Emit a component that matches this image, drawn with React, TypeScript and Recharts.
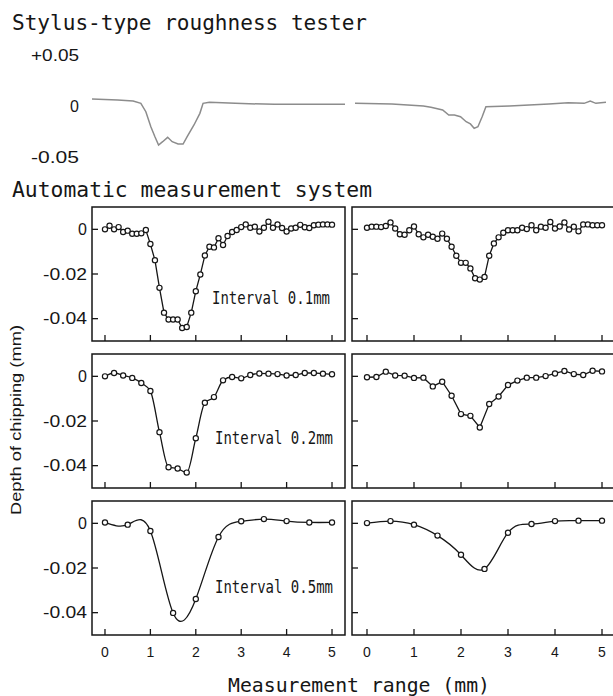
import React from 'react';
import { LineChart, Line, XAxis, YAxis, ReferenceArea } from 'recharts';

// stylus profile (x in mm, depth in mm)
const stylusLeftX = [-0.286, 0.28, 0.62, 0.79, 0.9, 1.01, 1.1, 1.18, 1.27, 1.38, 1.48, 1.61, 1.72, 1.81, 1.96, 2.09, 2.16, 2.3, 2.87, 3.73, 4.59, 5.286];
const stylusLeftY = [0.0069, 0.0059, 0.0049, 0.0026, -0.0056, -0.0203, -0.0301, -0.0382, -0.035, -0.0307, -0.035, -0.0373, -0.0373, -0.0301, -0.0186, -0.0072, 0.0026, 0.0036, 0.0026, 0.0016, 0.0016, 0.0016];
const stylusRightX = [-0.255, 0.53, 1.2, 1.36, 1.61, 1.74, 1.86, 1.99, 2.11, 2.2, 2.28, 2.36, 2.45, 2.53, 3.03, 3.87, 4.28, 4.62, 4.75, 4.87, 5.085];
const stylusRightY = [0.0026, 0.002, 0, -0.0013, -0.0039, -0.0088, -0.0088, -0.0105, -0.0154, -0.0176, -0.0219, -0.0203, -0.0105, -0.0007, 0, 0.002, 0.0033, 0.0026, 0.0049, 0.0026, 0.0036];

// automatic measurement, depth of chipping (mm)
const left01 = [0, 0.0016, 0, 0.001, -0.0012, -0.0006, -0.002, -0.002, -0.0018, -0.0003, -0.0066, -0.0138, -0.0262, -0.0373, -0.0404, -0.0404, -0.0404, -0.0442, -0.0437, -0.0373, -0.0277, -0.0202, -0.0117, -0.0078, -0.0081, -0.004, -0.007, -0.003, -0.0012, -0.0003, 0.001, 0.0022, 0.0007, 0.0012, -0.001, 0.0007, 0.0034, 0.0007, 0.0022, 0.0006, -0.001, 0.0004, 0.0007, 0.002, 0.0009, 0.0006, 0.0018, 0.0021, 0.0022, 0.0022, 0.0021];
const right01 = [0.0007, 0.0012, 0.0012, 0.001, 0.0015, 0.0031, 0.0004, -0.0022, -0.0024, -0.0004, 0.0013, -0.0022, -0.0036, -0.0024, -0.0033, -0.0042, -0.0019, -0.0042, -0.0078, -0.0118, -0.015, -0.015, -0.0175, -0.0219, -0.0225, -0.0213, -0.0118, -0.0063, -0.0036, -0.0015, -0.0004, -0.0004, -0.0004, 0.0007, 0.0001, 0.0018, -0.0004, 0.0012, 0.0007, 0.0033, 0.0004, 0.0013, 0.0031, -0.0001, 0.0012, -0.0009, 0.0022, 0.0022, 0.0018, 0.0018, 0.0018];
const left02 = [0, 0.0015, 0.0004, -0.0007, -0.003, -0.0066, -0.025, -0.0407, -0.0413, -0.0431, -0.0277, -0.0118, -0.0093, -0.0018, -0.0003, -0.0009, 0.0006, 0.0013, 0.0012, 0.001, 0.0004, 0.0006, 0.0015, 0.0015, 0.0012, 0.0009];
const right02 = [-0.0004, -0.0003, 0.0021, 0.0004, 0.0003, -0.0007, -0.0006, -0.0045, -0.0024, -0.0087, -0.0169, -0.0177, -0.0229, -0.0124, -0.009, -0.0039, -0.0019, -0.0006, -0.0006, 0.0001, 0.0013, 0.0024, 0.001, 0.0006, 0.0025, 0.0022];
const left05 = [0.0004, -0.0006, -0.0034, -0.0401, -0.0339, -0.0061, 0.0009, 0.0019, 0.001, 0.0004, 0.0004];
const right05 = [0.0001, 0.001, -0.0006, -0.0055, -0.0141, -0.0204, -0.0042, -0.0003, 0.001, 0.0012, 0.0012];

const yTicks = [0, -0.02, -0.04];
const xTicks = [0, 1, 2, 3, 4, 5];
const stylusTicks = [0.05, 0, -0.05];
const stylusTickLabels = ['+0.05', '0', '-0.05'];

const INK = '#161616';
const NUM_FONT = "'Liberation Sans', Arial, sans-serif";
const MONO_FONT = "'DejaVu Sans Mono', 'Liberation Mono', monospace";

const XTick = (props: any) => {
  const { x, y, payload, showLabel } = props;
  return (
    <g>
      <line x1={x} y1={y} x2={x} y2={y - 6} stroke={INK} strokeWidth={1.3} />
      {showLabel && (
        <text x={x} y={y + 22} textAnchor="middle" fontSize={14} fontFamily={NUM_FONT} fill={INK}>
          {payload.value}
        </text>
      )}
    </g>
  );
};

const YTick = (props: any) => {
  const { x, y, payload, showLabel } = props;
  const label = payload.value === 0 ? '0' : payload.value.toFixed(2);
  return (
    <g>
      <line x1={x} y1={y} x2={x + 6} y2={y} stroke={INK} strokeWidth={1.3} />
      {showLabel && (
        <text
          x={x - 5}
          y={y}
          dy="0.36em"
          textAnchor="end"
          fontSize={16}
          fontFamily={NUM_FONT}
          fill={INK}
          {...(label.length > 1 ? { textLength: 44, lengthAdjust: 'spacingAndGlyphs' } : {})}
        >
          {label}
        </text>
      )}
    </g>
  );
};

const StylusTick = (props: any) => {
  const { x, y, index } = props;
  const label = stylusTickLabels[index];
  return (
    <text
      x={x - 13}
      y={y}
      dy="0.36em"
      textAnchor="end"
      fontSize={16}
      fontFamily={NUM_FONT}
      fill={INK}
      {...(label.length > 1 ? { textLength: 48, lengthAdjust: 'spacingAndGlyphs' } : {})}
    >
      {label}
    </text>
  );
};

function Stylus({ xs, ys, left, axisW, plotW, domain, showLabels }: any) {
  const data = xs.map((x: number, i: number) => ({ x, y: ys[i] }));
  return (
    <div style={{ position: 'absolute', left, top: 43 }}>
      <LineChart width={axisW + plotW} height={126} data={data} margin={{ top: 12, right: 0, bottom: 12, left: 0 }}>
        <XAxis type="number" dataKey="x" domain={domain} allowDataOverflow hide />
        <YAxis
          type="number"
          domain={[-0.05, 0.05]}
          ticks={stylusTicks}
          interval={0}
          width={axisW}
          hide={!showLabels}
          axisLine={false}
          tickLine={false}
          tickSize={0}
          tickMargin={0}
          tick={(p: any) => <StylusTick {...p} />}
        />
        <Line type="linear" dataKey="y" stroke="#8c8c8c" strokeWidth={1.5} dot={false} isAnimationActive={false} />
      </LineChart>
    </div>
  );
}

function Panel({ values, step, top, side, bottom, curve }: any) {
  const data = values.map((y: number, i: number) => ({ x: Math.round(i * step * 10) / 10, y }));
  const isLeft = side === 'left';
  const axisW = isLeft ? 92 : 12;
  const plotW = isLeft ? 253 : 265;
  const domain = isLeft ? [-0.286, 5.286] : [-0.319, 5.319];
  const xAxisH = bottom ? 30 : 2;
  return (
    <div style={{ position: 'absolute', left: isLeft ? 0 : 340, top: top - 2 }}>
      <LineChart width={axisW + plotW + 3} height={2 + 134 + xAxisH} data={data} margin={{ top: 2, right: 3, bottom: 0, left: 0 }}>
        <XAxis
          type="number"
          dataKey="x"
          domain={domain}
          ticks={xTicks}
          interval={0}
          allowDataOverflow
          height={xAxisH}
          axisLine={false}
          tickLine={false}
          tickSize={0}
          tickMargin={0}
          tick={(p: any) => <XTick {...p} showLabel={bottom} />}
        />
        <YAxis
          type="number"
          domain={[-0.05, 0.01]}
          ticks={yTicks}
          interval={0}
          allowDataOverflow
          width={axisW}
          axisLine={false}
          tickLine={false}
          tickSize={0}
          tickMargin={0}
          tick={(p: any) => <YTick {...p} showLabel={isLeft} />}
        />
        <ReferenceArea x1={domain[0]} x2={domain[1]} y1={-0.05} y2={0.01} fill="none" stroke={INK} strokeWidth={1.5} ifOverflow="visible" />
        <Line
          type={curve}
          dataKey="y"
          stroke={INK}
          strokeWidth={1.3}
          dot={{ r: 2.6, stroke: INK, strokeWidth: 1.2, fill: '#fff' }}
          isAnimationActive={false}
        />
      </LineChart>
    </div>
  );
}

export default function App() {
  return (
    <div style={{ position: 'absolute', left: 0, top: 0, width: 613, height: 696, overflow: 'hidden', background: '#fff' }}>
      <Stylus xs={stylusLeftX} ys={stylusLeftY} left={0} axisW={92} plotW={253} domain={[-0.286, 5.286]} showLabels />
      <Stylus xs={stylusRightX} ys={stylusRightY} left={355} axisW={0} plotW={251} domain={[-0.255, 5.085]} showLabels={false} />

      <Panel values={left01} step={0.1} top={207} side="left" curve="linear" />
      <Panel values={right01} step={0.1} top={207} side="right" curve="linear" />
      <Panel values={left02} step={0.2} top={354} side="left" curve="monotone" />
      <Panel values={right02} step={0.2} top={354} side="right" curve="linear" />
      <Panel values={left05} step={0.5} top={501} side="left" bottom curve="natural" />
      <Panel values={right05} step={0.5} top={501} side="right" bottom curve="natural" />

      <svg width={613} height={696} style={{ position: 'absolute', left: 0, top: 0, pointerEvents: 'none' }}>
        <text x={12} y={30} fontSize={21} fontFamily={MONO_FONT} fill={INK} textLength={355} lengthAdjust="spacingAndGlyphs">
          Stylus-type roughness tester
        </text>
        <text x={12} y={197} fontSize={21} fontFamily={MONO_FONT} fill={INK} textLength={360} lengthAdjust="spacingAndGlyphs">
          Automatic measurement system
        </text>
        <text x={212} y={304} fontSize={17} fontFamily={MONO_FONT} fill={INK} textLength={118} lengthAdjust="spacingAndGlyphs">
          Interval 0.1mm
        </text>
        <text x={215} y={444} fontSize={17} fontFamily={MONO_FONT} fill={INK} textLength={118} lengthAdjust="spacingAndGlyphs">
          Interval 0.2mm
        </text>
        <text x={215} y={593} fontSize={17} fontFamily={MONO_FONT} fill={INK} textLength={118} lengthAdjust="spacingAndGlyphs">
          Interval 0.5mm
        </text>
        <text x={228} y={692} fontSize={20} fontFamily={MONO_FONT} fill={INK} textLength={262} lengthAdjust="spacingAndGlyphs">
          Measurement range (mm)
        </text>
        <text
          transform="translate(21,420) rotate(-90)"
          textAnchor="middle"
          fontSize={15}
          fontFamily={NUM_FONT}
          fill={INK}
          textLength={190}
          lengthAdjust="spacingAndGlyphs"
        >
          Depth of chipping (mm)
        </text>
      </svg>
    </div>
  );
}
